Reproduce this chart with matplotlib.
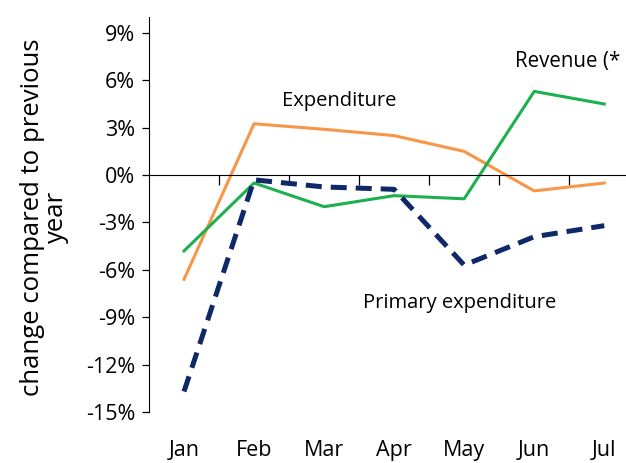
import numpy as np
import matplotlib.pyplot as plt

# ----------------------------
# Data
# ----------------------------
months = ['Jan', 'Feb', 'Mar', 'Apr', 'May', 'Jun', 'Jul']
expenditure = [-6.6, 3.25, 2.9, 2.5, 1.5, -1.0, -0.5]
revenue = [-4.8, -0.5, -2.0, -1.3, -1.5, 5.3, 4.5]
primary_exp = [-13.7, -0.3, -0.75, -0.9, -5.7, -3.9, -3.2]
yticks = [-15, -12, -9, -6, -3, 0, 3, 6, 9]

plt.rcParams['font.family'] = ['Open Sans', 'DejaVu Sans']

fig = plt.figure(figsize=(6.26, 4.63), dpi=100)
ax = fig.add_axes([0.238, 0.110, 0.762, 0.853])

x = np.arange(len(months))

ax.plot(x, expenditure, color='#F79646', linewidth=2.2)
ax.plot(x, revenue, color='#1DB04F', linewidth=2.2)
ax.plot(x, primary_exp, color='#0F2868', linewidth=3.6,
        dashes=(3.2, 1.8), dash_capstyle='butt')

# ----------------------------
# Axes
# ----------------------------
ax.set_xlim(-0.5, 6.31)
ax.set_ylim(-15, 10)

ax.spines['top'].set_visible(False)
ax.spines['right'].set_visible(False)
ax.spines['bottom'].set_position(('data', 0))
ax.spines['left'].set_bounds(-15, 10)

ax.set_yticks(yticks)
ax.set_yticklabels([f'{v}%' for v in yticks])
ax.tick_params(axis='y', length=5, width=0.9, labelsize=15.5, pad=5)

ax.set_xticks(x)
ax.set_xticklabels([])
ax.set_xticks(np.arange(0.5, 6.0, 1.0), minor=True)
ax.tick_params(axis='x', which='major', length=0)
ax.tick_params(axis='x', which='minor', length=7, width=0.9, direction='out')

for i, m in enumerate(months):
    ax.text(i, -0.098, m, transform=ax.get_xaxis_transform(),
            ha='center', va='center', fontsize=15.5)

ax.set_ylabel('change compared to previous\nyear', fontsize=18.5,
              linespacing=0.92)
ax.yaxis.set_label_coords(-0.168, 0.494)

# ----------------------------
# Series labels
# ----------------------------
ax.text(1.4, 4.7, 'Expenditure', fontsize=14.5, ha='left', va='center')
ax.text(4.73, 7.2, 'Revenue (*', fontsize=14.8, ha='left', va='center')
ax.text(2.55, -8.1, 'Primary expenditure', fontsize=14.5, ha='left', va='center')

fig.savefig('out.png', dpi=100)
